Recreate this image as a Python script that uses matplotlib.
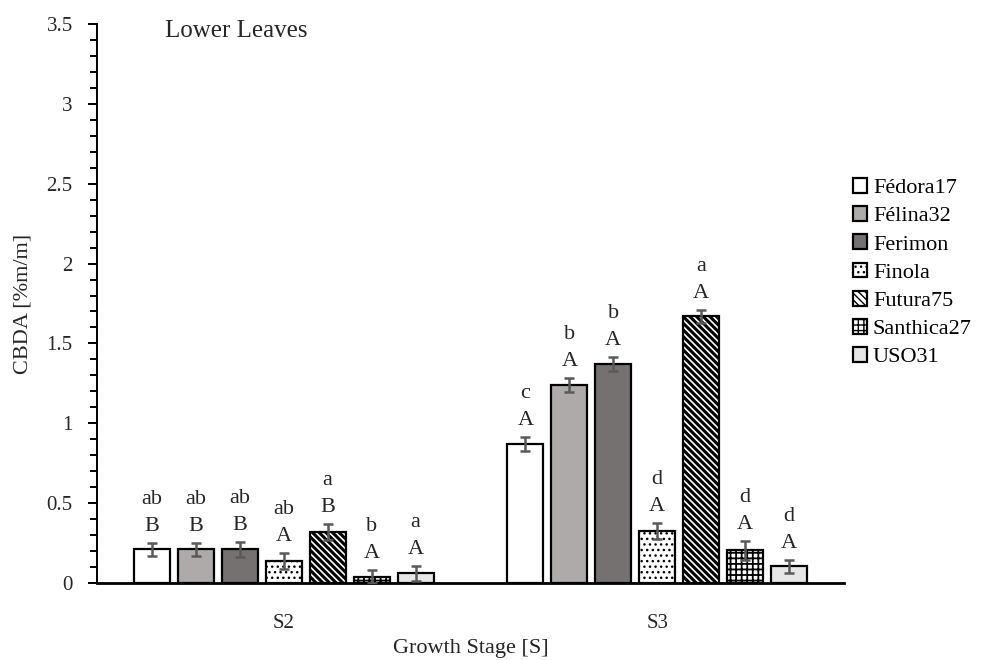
import matplotlib
matplotlib.use("Agg")
import matplotlib.pyplot as plt
import numpy as np
from matplotlib.ticker import MultipleLocator

plt.rcParams['font.family'] = ['Liberation Serif', 'DejaVu Serif']
plt.rcParams['hatch.color'] = 'black'

stages = ['S2', 'S3']
cultivars = ['Fédora17', 'Félina32', 'Ferimon', 'Finola', 'Futura75', 'Santhica27', 'USO31']
# CBDA content per cultivar, one value per growth stage
means = {
    'Fédora17':   [0.21, 0.87],
    'Félina32':   [0.21, 1.24],
    'Ferimon':    [0.21, 1.37],
    'Finola':     [0.14, 0.325],
    'Futura75':   [0.32, 1.67],
    'Santhica27': [0.04, 0.205],
    'USO31':      [0.06, 0.105],
}
errors = {
    'Fédora17':   [0.04, 0.045],
    'Félina32':   [0.04, 0.045],
    'Ferimon':    [0.045, 0.045],
    'Finola':     [0.05, 0.05],
    'Futura75':   [0.05, 0.04],
    'Santhica27': [0.04, 0.06],
    'USO31':      [0.045, 0.04],
}
upper_letters = {
    'Fédora17':   ['B', 'A'],
    'Félina32':   ['B', 'A'],
    'Ferimon':    ['B', 'A'],
    'Finola':     ['A', 'A'],
    'Futura75':   ['B', 'A'],
    'Santhica27': ['A', 'A'],
    'USO31':      ['A', 'A'],
}
lower_letters = {
    'Fédora17':   ['ab', 'c'],
    'Félina32':   ['ab', 'b'],
    'Ferimon':    ['ab', 'b'],
    'Finola':     ['ab', 'd'],
    'Futura75':   ['a', 'a'],
    'Santhica27': ['b', 'd'],
    'USO31':      ['a', 'd'],
}

styles = {
    'Fédora17':   dict(color='white', hatch=None, hlw=1.0),
    'Félina32':   dict(color='#aeaaaa', hatch=None, hlw=1.0),
    'Ferimon':    dict(color='#767171', hatch=None, hlw=1.0),
    'Finola':     dict(color='white', hatch='...', hlw=1.0),
    'Futura75':   dict(color='white', hatch='\\' * 5, hlw=2.2),
    'Santhica27': dict(color='white', hatch='+++', hlw=1.3),
    'USO31':      dict(color='#e7e6e6', hatch=None, hlw=1.0),
}

text_color = '#262626'

fig = plt.figure(figsize=(9.82, 6.60), dpi=100)
ax = fig.add_axes([97/982, 1 - 583/660, (844 - 97)/982, (583 - 24)/660])

x = np.arange(len(stages))
step = 0.1176
width = 0.0963
n = len(cultivars)

handles = []
for i, cv in enumerate(cultivars):
    st = styles[cv]
    xs = x + (i - (n - 1) / 2) * step
    with plt.rc_context({'hatch.linewidth': st['hlw']}):
        bars = ax.bar(xs, means[cv], width=width, color=st['color'],
                      edgecolor='black', linewidth=1.6, hatch=st['hatch'],
                      label=cv, zorder=2)
    handles.append(bars)
    ax.errorbar(xs, means[cv], yerr=errors[cv], fmt='none', ecolor='#595959',
                elinewidth=1.8, capsize=3.6, capthick=1.8, zorder=3)
    for xi, m, e, up, lo in zip(xs, means[cv], errors[cv], upper_letters[cv], lower_letters[cv]):
        top = m + e
        ax.annotate(up, (xi, top), xytext=(0, 7), textcoords='offset pixels',
                    ha='center', va='bottom', fontsize=16, color=text_color)
        ax.annotate(lo, (xi, top), xytext=(0, 34), textcoords='offset pixels',
                    ha='center', va='bottom', fontsize=16, color=text_color)

ax.set_xlim(-0.5, 1.5)
ax.set_ylim(0, 3.5)
ax.set_xticks(x)
ax.set_xticklabels(stages, fontsize=15, color=text_color)
ax.tick_params(axis='x', length=0, pad=22)
ax.yaxis.set_major_locator(MultipleLocator(0.5))
ax.yaxis.set_minor_locator(MultipleLocator(0.1))
ax.set_yticks(np.arange(0, 3.51, 0.5))
ax.set_yticklabels(['0', '0.5', '1', '1.5', '2', '2.5', '3', '3.5'], fontsize=15, color=text_color)
ax.tick_params(axis='y', which='major', direction='out', length=6.5, width=1.4, pad=11)
ax.tick_params(axis='y', which='minor', direction='out', length=5, width=1.4)

for s in ['top', 'right']:
    ax.spines[s].set_visible(False)
ax.spines['left'].set_linewidth(1.4)
ax.spines['bottom'].set_linewidth(2.0)

ax.set_ylabel('CBDA [%m/m]', fontsize=16, color=text_color, labelpad=10)
ax.set_xlabel('Growth Stage [S]', fontsize=16, color=text_color, labelpad=5)

fig.text(165/982, 1 - 31/660, 'Lower Leaves', fontsize=18, color=text_color,
         ha='left', va='center')

fig.legend(handles=handles, labels=cultivars, loc='upper left',
           bbox_to_anchor=(844/982, 1 - 169/660), frameon=False, fontsize=16,
           handlelength=0.65, handleheight=0.65, handletextpad=0.25,
           labelspacing=0.36, borderaxespad=0)

fig.savefig('out.png', dpi=100)
